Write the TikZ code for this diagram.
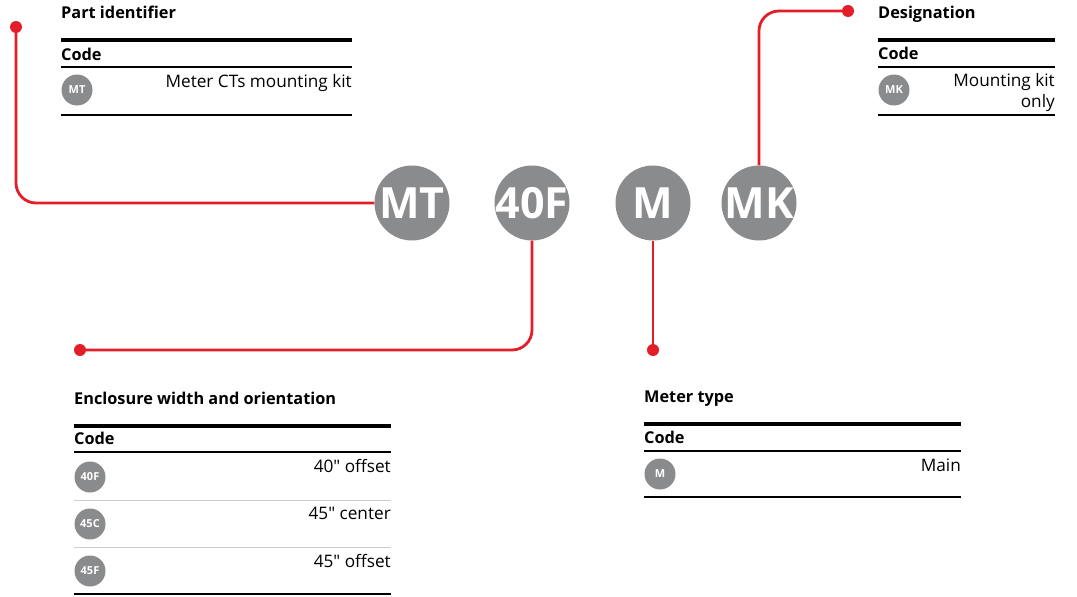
\documentclass[tikz,border=0pt]{standalone}
\usepackage{fontspec}
\setmainfont{Open Sans}

\begin{document}
\begin{tikzpicture}[x=1pt,y=-1pt]
    \definecolor{abb_red}{RGB}{227, 30, 40}
    \definecolor{code_gray}{RGB}{138, 139, 141}
    \definecolor{rule_gray}{RGB}{205, 205, 205}
    \tikzset{
        bigcode/.style={circle, fill=code_gray, minimum size=75pt, inner sep=0pt, text=white, font=\fontsize{43}{43}\selectfont\bfseries},
        smallcode/.style={circle, fill=code_gray, minimum size=31pt, inner sep=0pt, text=white, font=\fontsize{11}{11}\selectfont\bfseries},
        reddot/.style={circle, fill=abb_red, minimum size=12pt, inner sep=0pt},
        redline/.style={draw=abb_red, line width=2.8pt, rounded corners=20pt},
        title/.style={anchor=base west, inner sep=0pt, font=\fontsize{16.3}{16.3}\selectfont\bfseries},
        head/.style={anchor=base west, inner sep=0pt, font=\fontsize{16.3}{16.3}\selectfont\bfseries},
        desc/.style={anchor=base east, inner sep=0pt, font=\fontsize{17.2}{17.2}\selectfont},
        toprule/.style={line width=4.5pt},
        midrule/.style={line width=2pt},
        botrule/.style={line width=2.8pt},
        rowrule/.style={draw=rule_gray, line width=1pt}
    }
    \useasboundingbox (0,0) rectangle (1077,597);

    % the code circles
    \node[bigcode] (MT) at (412,203) {\makebox[0pt]{MT}};
    \node[bigcode] (F40) at (532,203) {\makebox[0pt]{40F}};
    \node[bigcode] (Mt) at (653,203) {\makebox[0pt]{M}};
    \node[bigcode] (MK) at (759,203) {\makebox[0pt]{MK}};

    % red end points
    \node[reddot] (dotPart) at (16,27) {};
    \node[reddot] (dotDesig) at (848,11) {};
    \node[reddot] (dotEncl) at (80,350) {};
    \node[reddot] (dotMeter) at (653,350) {};

    % red leader lines
    \draw[redline] (dotPart.center) |- (MT.west);
    \draw[redline] (F40.south) |- (dotEncl.center);
    \draw[redline] (Mt.south) -- (dotMeter.center);
    \draw[redline] (MK.north) |- (dotDesig.center);

    % Part identifier
    \node[title] (tPart) at (61,18) {Part identifier};
    \draw[toprule] (61,40) -- (122.8,40);
    \draw[toprule] (123.2,40) -- (352,40);
    \node[head] (cPart) at (61,60) {Code};
    \draw[midrule] (61,67) -- (122.8,67);
    \draw[midrule] (123.2,67) -- (352,67);
    \node[smallcode] (sMT) at (77,90) {MT};
    \node[desc] (dMT) at (352,87) {Meter CTs mounting kit};
    \draw[botrule] (61,115) -- (122.8,115);
    \draw[botrule] (123.2,115) -- (352,115);

    % Designation
    \node[title] (tDesig) at (878,18) {Designation};
    \draw[toprule] (878,40) -- (1055,40);
    \node[head] (cDesig) at (878,59) {Code};
    \draw[midrule] (878,67) -- (1055,67);
    \node[smallcode] (sMK) at (894,90) {MK};
    \node[desc] (dMK) at (1055,86) {Mounting kit};
    \node[desc] (dMK2) at (1055,107) {only};
    \draw[botrule] (878,115) -- (1055,115);

    % Enclosure width and orientation
    \node[title] (tEncl) at (74,404) {Enclosure width and orientation};
    \draw[toprule] (74,426) -- (232.8,426);
    \draw[toprule] (233.2,426) -- (391,426);
    \node[head] (cEncl) at (74,444) {Code};
    \draw[midrule] (74,452) -- (232.8,452);
    \draw[midrule] (233.2,452) -- (391,452);
    \node[smallcode] (s40F) at (90,477) {40F};
    \node[desc] (d40F) at (391,472) {40\textquotedbl{} offset};
    \draw[rowrule] (74,500) -- (391,500);
    \node[smallcode] (s45C) at (90,524) {45C};
    \node[desc] (d45C) at (391,519) {45\textquotedbl{} center};
    \draw[rowrule] (74,547) -- (391,547);
    \node[smallcode] (s45F) at (90,571) {45F};
    \node[desc] (d45F) at (391,567) {45\textquotedbl{} offset};
    \draw[botrule] (74,594) -- (232.8,594);
    \draw[botrule] (233.2,594) -- (391,594);

    % Meter type
    \node[title] (tMeter) at (644,402) {Meter type};
    \draw[toprule] (644,424) -- (802.8,424);
    \draw[toprule] (803.2,424) -- (961,424);
    \node[head] (cMeter) at (644,443) {Code};
    \draw[midrule] (644,451) -- (802.8,451);
    \draw[midrule] (803.2,451) -- (961,451);
    \node[smallcode] (sM) at (660,474) {M};
    \node[desc] (dM) at (961,471) {Main};
    \draw[botrule] (644,497) -- (802.8,497);
    \draw[botrule] (803.2,497) -- (961,497);
\end{tikzpicture}
\end{document}
